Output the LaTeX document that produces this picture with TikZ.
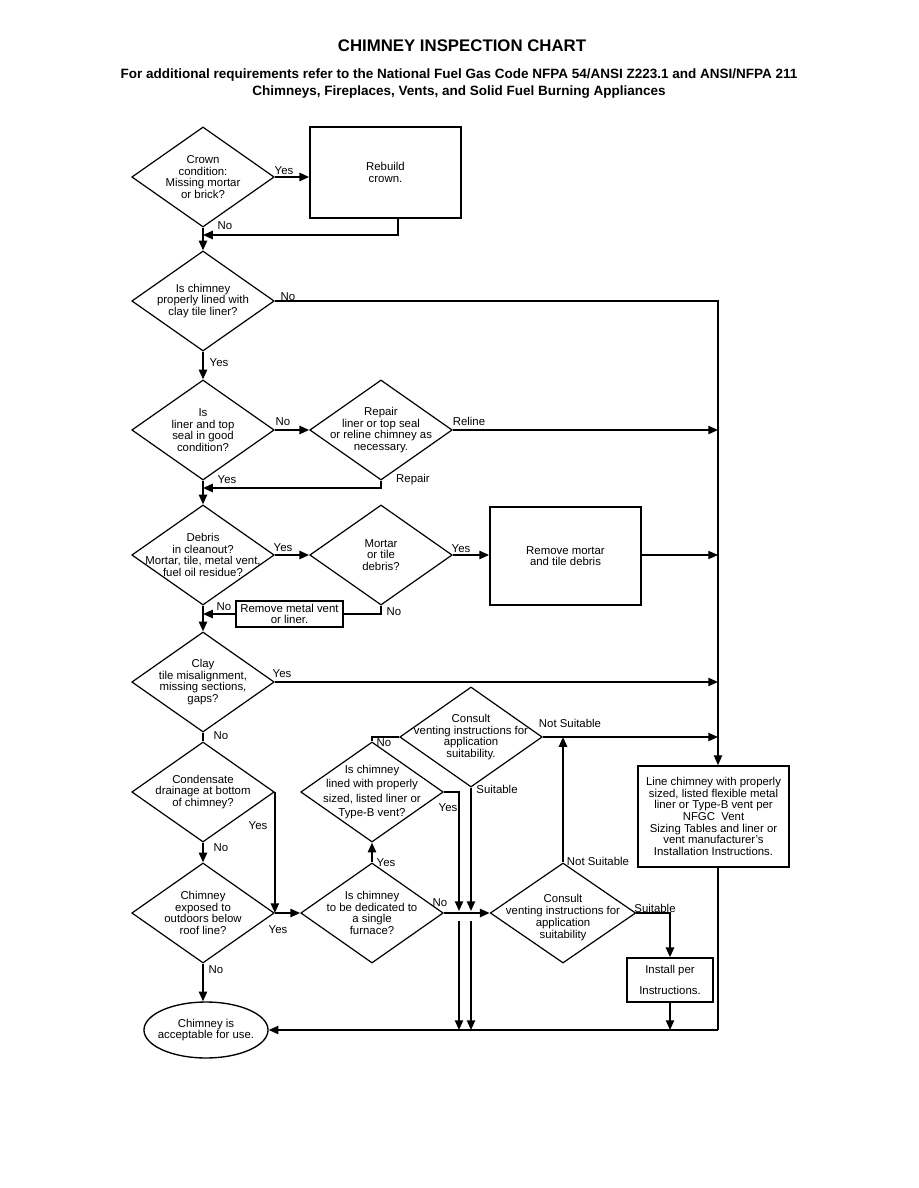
\documentclass[tikz,border=0pt]{standalone}
\usepackage{fontspec}
\setmainfont{Liberation Sans}
\usetikzlibrary{shapes.geometric, arrows.meta}

\begin{document}
\begin{tikzpicture}[x=0.6667pt, y=-0.6667pt,
	font=\fontsize{7.6}{7.8}\selectfont,
	dia/.style={diamond, draw, line width=0.8pt, inner sep=0pt, minimum width=95pt, minimum height=66.7pt},
	box/.style={rectangle, draw, line width=1.1pt, align=center, inner sep=2pt},
	txt/.style={align=center, inner sep=0pt},
	lbl/.style={inner sep=0pt},
	flow/.style={line width=1.2pt, -{Triangle[length=6.5pt, width=5.5pt]}},
	wire/.style={line width=1.2pt},
	fine/.style={line width=0.7pt}]
	\useasboundingbox (0,0) rectangle (918,1188);

	\node[font=\fontsize{11.2}{13}\selectfont\bfseries] (title) at (462,46) {CHIMNEY INSPECTION CHART};
	\node[font=\fontsize{9}{11.3}\selectfont\bfseries, align=center] (sub) at (459,83.5)
		{For additional requirements refer to the National Fuel Gas Code NFPA 54/ANSI Z223.1 and ANSI/NFPA 211\\
		Chimneys, Fireplaces, Vents, and Solid Fuel Burning Appliances};

	\node[dia, label={[txt]center:Crown\\condition:\\Missing mortar\\or brick?}] (crown) at (203,177) {};
	\node[box, minimum width=100.7pt, minimum height=60.7pt] (rebuild) at (385.5,172.5) {Rebuild\\crown.};
	\node[dia, label={[txt]center:Is chimney\\properly lined with\\clay tile liner?}] (lined) at (203,301) {};
	\node[dia, label={[txt]center:Is\\liner and top\\seal in good\\condition?}] (seal) at (203,430) {};
	\node[dia, label={[txt]center:Repair\\liner or top seal\\or reline chimney as\\necessary.}] (repair) at (381,430) {};
	\node[dia, label={[txt]center:{Debris\\in cleanout?\\Mortar, tile, metal vent,\\fuel oil residue?}}] (debris) at (203,555) {};
	\node[dia, label={[txt]center:Mortar\\or tile\\debris?}] (mortar) at (381,555) {};
	\node[box, minimum width=100.7pt, minimum height=65.3pt] (rmv) at (565.5,556) {Remove mortar\\and tile debris};
	\node[box, minimum width=71.3pt, minimum height=17.3pt, inner sep=1pt] (metal) at (289.5,614) {Remove metal vent\\or liner.};
	\node[dia, label={[txt]center:{Clay\\tile misalignment,\\missing sections,\\gaps?}}] (clay) at (203,682) {};
	\node[dia, label={[txt]center:Condensate\\drainage at bottom\\of chimney?}] (conds) at (203,792) {};
	\node[dia, label={[txt]center:Chimney\\exposed to\\outdoors below\\roof line?}] (exposed) at (203,913) {};
	\node[ellipse, draw, line width=0.9pt, inner sep=0pt, minimum width=82.7pt, minimum height=37.3pt,
		label={[txt]center:Chimney is\\acceptable for use.}] (ok) at (206,1030) {};
	\node[dia, label={[txt]center:Is chimney\\to be dedicated to\\a single\\furnace?}] (dedic) at (372,913) {};
	\node[dia, label={[txt, font=\fontsize{7.6}{9.5}\selectfont]center:{Is chimney\\lined with properly\\sized, listed liner or\\Type-B vent?}}] (sized) at (372,792) {};
	\node[dia, label={[txt]center:Consult\\venting instructions for\\application\\suitability.}] (consA) at (471,737) {};
	\node[dia, minimum width=97pt, label={[txt, yshift=-3pt]center:Consult\\venting instructions for\\application\\suitability}] (consB) at (563,913) {};
	\node[box, minimum width=57.3pt, minimum height=29.3pt] (inst) at (670,980) {Install per\\[6pt]Instructions.};
	\node[box, minimum width=100.7pt, minimum height=67.3pt, inner sep=1pt] (line) at (713.5,816.5)
		{Line chimney with properly\\sized, listed flexible metal\\liner or Type-B vent per\\NFGC~ Vent\\Sizing Tables and liner or\\vent manufacturer's\\Installation Instructions.};

	\coordinate (bus) at (718,302);
	\coordinate (rbx) at (398,235);
	\coordinate (rpx) at (381,488);
	\coordinate (tapA) at (459,911);
	\coordinate (tapB) at (471,911);
	\coordinate (dropA) at (459,921);
	\coordinate (dropB) at (471,921);

	\draw[flow] (crown.east) -- (crown.east -| rebuild.west);
	\draw[flow] (rebuild.south -| rbx) |- (crown.south |- rbx);
	\draw[flow] (crown.south) -- (lined.north);
	\draw[flow, fine] (lined.east) -| (bus |- line.north);
	\draw[flow] (lined.south) -- (seal.north);
	\draw[flow] (seal.east) -- (repair.west);
	\draw[flow] (repair.south) |- (seal.south |- rpx);
	\draw[flow] (seal.south) -- (debris.north);
	\draw[flow] (debris.east) -- (mortar.west);
	\draw[flow] (mortar.east) -- (mortar.east -| rmv.west);
	\draw[flow, fine] (rmv.east |- mortar.east) -- (mortar.east -| bus);
	\draw[wire] (mortar.south) |- (metal.east);
	\draw[flow] (metal.west) -- (debris.south |- metal.west);
	\draw[flow] (debris.south) -- (clay.north);
	\foreach \n in {repair,clay,consA}
		\draw[flow] (\n.east) -- (\n.east -| bus);
	\draw[wire] (clay.south) -- (conds.north);
	\draw[flow] (conds.east) -- (exposed.east);
	\draw[flow] (conds.south) -- (exposed.north);
	\draw[flow] (exposed.east) -- (dedic.west);
	\draw[flow] (exposed.south) -- (exposed.south |- ok.north);
	\draw[flow] (dedic.north) -- (sized.south);
	\draw[wire] (sized.north) |- (consA.west);
	\draw[flow] (sized.east) -| (tapA);
	\draw[flow] (consA.south) -- (tapB);
	\draw[flow] (dropA) -- (dropA |- ok.east);
	\draw[flow] (dropB) -- (dropB |- ok.east);
	\draw[flow] (dedic.east) -- (consB.west);
	\draw[flow] (consB.north) -- (consB.north |- consA.east);
	\draw[flow] (consB.east) -| (inst.north);
	\draw[flow] (inst.south) -- (inst.south |- ok.east);
	\draw[fine] (line.south -| bus) -- (bus |- ok.east);
	\draw[flow] (bus |- ok.east) -- (ok.east);

	\foreach \t/\x/\y [count=\i] in {Yes/284/171, No/225/226, No/288/297, Yes/219/363, No/283/422,
		Reline/469/421, Repair/413/480, Yes/227/480, Yes/283/548, Yes/461/549, No/394/612, No/224/607,
		Yes/282/674, No/221/736, No/384/743, Not Suitable/570/723, Suitable/497/789, Yes/258/826,
		Yes/448/808, No/221/848, Yes/386/863, Not Suitable/598/861, No/440/903, Suitable/655/908,
		Yes/278/930, No/216/970}
		\node[lbl] (lab\i) at (\x,\y) {\t};
\end{tikzpicture}
\end{document}
